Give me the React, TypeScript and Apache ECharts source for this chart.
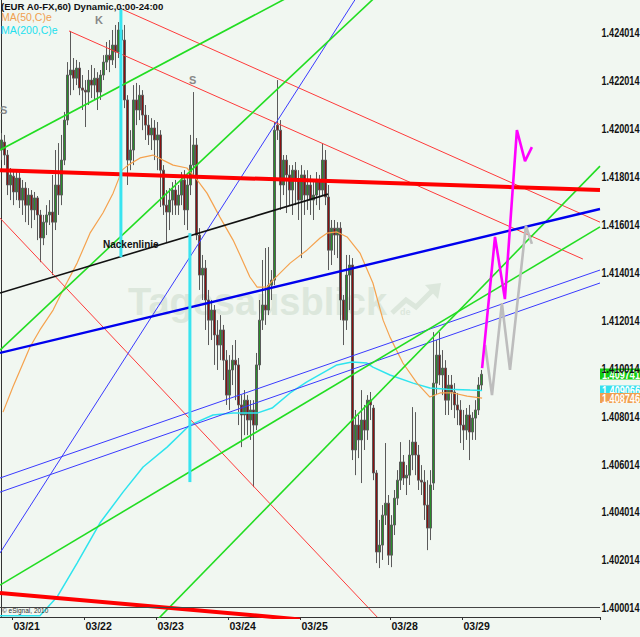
import React, { useEffect, useRef } from 'react';
import * as echarts from 'echarts';

// ---------- DATA ----------
// hourly candles: [open, close, low, high]
const candles: number[][] = [
  [1.41910,1.41952,1.41868,1.41981],[1.41943,1.41889,1.41847,1.41973],[1.41889,1.41764,1.41722,1.41910],[1.41764,1.41806,1.41701,1.41835],
  [1.41801,1.41735,1.41680,1.41826],[1.41735,1.41793,1.41701,1.41826],[1.41793,1.41701,1.41668,1.41818],[1.41701,1.41751,1.41639,1.41785],
  [1.41751,1.41680,1.41609,1.41776],[1.41680,1.41722,1.41597,1.41751],[1.41722,1.41660,1.41584,1.41743],[1.41660,1.41710,1.41618,1.41735],
  [1.41710,1.41639,1.41534,1.41718],[1.41639,1.41543,1.41442,1.41660],[1.41543,1.41609,1.41513,1.41639],[1.41609,1.41639,1.41555,1.41680],
  [1.41639,1.41651,1.41597,1.41701],[1.41651,1.41609,1.41388,1.41806],[1.41609,1.41764,1.41576,1.41910],[1.41764,1.41722,1.41639,1.41939],
  [1.41722,1.41868,1.41680,1.41973],[1.41868,1.42035,1.41847,1.42069],[1.42035,1.42223,1.42014,1.42277],[1.42223,1.42244,1.42139,1.42407],
  [1.42244,1.42210,1.42160,1.42294],[1.42210,1.42252,1.42181,1.42286],[1.42252,1.42169,1.42139,1.42277],[1.42169,1.42160,1.42077,1.42223],
  [1.42160,1.42152,1.42006,1.42202],[1.42152,1.42202,1.42098,1.42244],[1.42202,1.42181,1.42127,1.42265],[1.42181,1.42210,1.42119,1.42252],
  [1.42210,1.42152,1.42077,1.42235],[1.42152,1.42223,1.42119,1.42244],[1.42223,1.42277,1.42202,1.42306],[1.42277,1.42306,1.42244,1.42361],
  [1.42306,1.42286,1.42235,1.42369],[1.42286,1.42348,1.42265,1.42411],[1.42348,1.42319,1.42252,1.42432],[1.42319,1.42411,1.42294,1.42444],
  [1.42411,1.42369,1.42306,1.42503],[1.42369,1.42119,1.42085,1.42432],[1.42119,1.41868,1.41764,1.42139],[1.41868,1.41910,1.41826,1.41993],
  [1.41910,1.42119,1.41847,1.42181],[1.42119,1.42077,1.42014,1.42190],[1.42077,1.42139,1.42035,1.42181],[1.42139,1.42056,1.41993,1.42160],
  [1.42056,1.42014,1.41952,1.42098],[1.42014,1.41973,1.41931,1.42056],[1.41973,1.42002,1.41910,1.42043],[1.42002,1.41952,1.41868,1.42035],
  [1.41952,1.41973,1.41826,1.42027],[1.41973,1.41826,1.41672,1.41993],[1.41826,1.41680,1.41639,1.41847],[1.41680,1.41651,1.41522,1.41743],
  [1.41651,1.41701,1.41576,1.41751],[1.41701,1.41743,1.41639,1.41776],[1.41743,1.41680,1.41639,1.41785],[1.41680,1.41722,1.41639,1.41764],
  [1.41722,1.41785,1.41680,1.41818],[1.41785,1.41660,1.41597,1.41826],[1.41660,1.41764,1.41576,1.41793],[1.41764,1.41847,1.41722,1.41973],
  [1.41847,1.41931,1.41806,1.42152],[1.41931,1.41555,1.41534,1.41960],[1.41555,1.41388,1.41326,1.41584],[1.41388,1.41417,1.41284,1.41472],
  [1.41417,1.41284,1.41159,1.41451],[1.41284,1.41200,1.41096,1.41326],[1.41200,1.41242,1.41117,1.41284],[1.41242,1.41138,1.41013,1.41263],
  [1.41138,1.41096,1.40992,1.41200],[1.41096,1.41159,1.41033,1.41221],[1.41159,1.41033,1.40950,1.41180],[1.41033,1.40887,1.40846,1.41075],
  [1.40887,1.40992,1.40825,1.41054],[1.40992,1.41033,1.40929,1.41096],[1.41033,1.41013,1.40866,1.41117],[1.41013,1.40846,1.40762,1.41042],
  [1.40846,1.40804,1.40670,1.40887],[1.40804,1.40866,1.40720,1.40908],[1.40866,1.40783,1.40720,1.40887],[1.40783,1.40825,1.40700,1.40866],
  [1.40825,1.40762,1.40503,1.40866],[1.40762,1.41013,1.40741,1.41063],[1.41013,1.41200,1.40992,1.41284],[1.41200,1.41263,1.41159,1.41451],
  [1.41263,1.41242,1.41180,1.41501],[1.41242,1.41346,1.41221,1.41505],[1.41346,1.41367,1.41284,1.41409],[1.41367,1.41993,1.41346,1.42027],
  [1.42014,1.41993,1.41952,1.42202],[1.41993,1.41764,1.41660,1.42035],[1.41764,1.41868,1.41722,1.41889],[1.41868,1.41806,1.41647,1.41889],
  [1.41806,1.41743,1.41680,1.41847],[1.41743,1.41826,1.41639,1.41847],[1.41826,1.41785,1.41680,1.41860],[1.41785,1.41701,1.41618,1.41826],
  [1.41701,1.41806,1.41459,1.41847],[1.41806,1.41722,1.41639,1.41826],[1.41722,1.41764,1.41660,1.41826],[1.41764,1.41701,1.41639,1.41806],
  [1.41701,1.41722,1.41618,1.41785],[1.41722,1.41785,1.41680,1.41818],[1.41785,1.41743,1.41660,1.41806],[1.41743,1.41868,1.41722,1.41939],
  [1.41868,1.41714,1.41680,1.41910],[1.41714,1.41492,1.41409,1.41764],[1.41492,1.41584,1.41430,1.41618],[1.41584,1.41555,1.41472,1.41618],
  [1.41555,1.41584,1.41459,1.41609],[1.41584,1.41284,1.41200,1.41609],[1.41284,1.41200,1.41096,1.41305],[1.41200,1.41388,1.41159,1.41472],
  [1.41388,1.41430,1.41242,1.41472],[1.41430,1.40658,1.40616,1.41459],[1.40658,1.40762,1.40553,1.40825],[1.40762,1.40700,1.40624,1.40804],
  [1.40700,1.40783,1.40520,1.40908],[1.40783,1.40741,1.40658,1.40846],[1.40741,1.40866,1.40700,1.40887],[1.40866,1.40846,1.40783,1.40900],
  [1.40833,1.40562,1.40532,1.40846],[1.40562,1.40232,1.40186,1.40574],[1.40232,1.40261,1.40165,1.40366],[1.40261,1.40386,1.40199,1.40428],
  [1.40386,1.40436,1.40345,1.40687],[1.40436,1.40219,1.40178,1.40470],[1.40219,1.40345,1.40169,1.40386],[1.40345,1.40457,1.40303,1.40491],
  [1.40457,1.40532,1.40428,1.40574],[1.40532,1.40608,1.40491,1.40691],[1.40608,1.40541,1.40512,1.40637],[1.40541,1.40553,1.40470,1.40595],
  [1.40553,1.40637,1.40512,1.40700],[1.40637,1.40691,1.40574,1.40837],[1.40691,1.40637,1.40553,1.40816],[1.40637,1.40532,1.40491,1.40679],
  [1.40532,1.40524,1.40470,1.40595],[1.40524,1.40428,1.40366,1.40574],[1.40428,1.40332,1.40240,1.40532],[1.40332,1.40512,1.40282,1.40574],
  [1.40520,1.40937,1.40491,1.41150],[1.40937,1.41054,1.40887,1.41117],[1.41054,1.40971,1.40929,1.41150],[1.40971,1.41000,1.40887,1.41075],
  [1.41000,1.40866,1.40804,1.41033],[1.40866,1.40929,1.40804,1.40971],[1.40929,1.40900,1.40825,1.40971],[1.40900,1.40846,1.40791,1.40937],
  [1.40846,1.40825,1.40762,1.40896],[1.40825,1.40762,1.40687,1.40866],[1.40762,1.40741,1.40658,1.40825],[1.40741,1.40804,1.40700,1.40833],
  [1.40804,1.40733,1.40616,1.40846],[1.40733,1.40791,1.40700,1.40816],[1.40791,1.40825,1.40700,1.40866],[1.40825,1.40929,1.40804,1.40962],
  [1.40929,1.409741,1.40908,1.40992],
];

const barCount = 200; // hourly slots on the x axis
const dayTickIndex = [4, 28, 52, 76, 100, 130, 154];
const dayLabels = ['03/21', '03/22', '03/23', '03/24', '03/25', '03/28', '03/29'];
const yTicks = [1.400014, 1.402014, 1.404014, 1.406014, 1.408014, 1.410014, 1.412014, 1.414014, 1.416014, 1.418014, 1.420014, 1.422014, 1.424014];
const yMin = 1.399609;
const yMax = 1.425362;

// moving averages [barIndex, price]
const ma50: number[][] = [
  [0.5,1.40816],[3.8,1.40921],[9.5,1.41088],[12.8,1.41159],[17.2,1.41242],[20.5,1.41326],[25.2,1.41438],[29.5,1.41563],
  [33.8,1.41647],[37.2,1.41730],[40.2,1.41826],[42.2,1.41847],[46.2,1.41877],[50.5,1.41889],[53.8,1.41868],[57.2,1.41847],
  [61.8,1.41835],[65.2,1.41785],[68.5,1.41730],[72.8,1.41630],[77.2,1.41534],[79.5,1.41472],[82.8,1.41380],[85.2,1.41338],
  [88.5,1.41338],[90.5,1.41367],[96.2,1.41438],[101.8,1.41492],[106.2,1.41543],[108.5,1.41563],[111.8,1.41568],[115.2,1.41547],
  [119.5,1.41480],[123.8,1.41355],[127.2,1.41200],[129.5,1.41129],[133.8,1.41021],[138.5,1.40937],[142.8,1.40879],[146.2,1.40896],
  [150.5,1.40896],[155.2,1.40883],[160.2,1.408746],
];
const ma200: number[][] = [
  [-0.5,1.39966],[12.8,1.39966],[18.5,1.40044],[25.2,1.40186],[32.8,1.40353],[40.5,1.40482],[47.2,1.40587],[55.2,1.40670],
  [62.8,1.40762],[70.5,1.40804],[77.2,1.40812],[85.2,1.40812],[90.2,1.40833],[96.2,1.40896],[101.8,1.40942],[111.8,1.41013],
  [116.8,1.41025],[121.8,1.41021],[123.8,1.41004],[129.5,1.40971],[137.2,1.40937],[142.8,1.40917],[148.5,1.40912],[156.2,1.40908],
  [160.2,1.409066],
];
// price tags at the right edge
const lastClose = 1.409741;
const ma200Last = 1.409066;
const ma50Last = 1.408746;
const supportLevel = 1.40361;

// drawn trend lines [barIndex, price]
const redThickTop = [[-0.5, 1.41826], [199.5, 1.41743]];
const redThickBottom = [[-0.5, 1.40061], [99.5, 1.39951]];
const redThinA = [[22.5, 1.42407], [193.8, 1.41455]];
const redThinB = [[40.2, 1.42498], [199.5, 1.41609]];
const redThinC = [[-0.5, 1.41626], [125.2, 1.39961]];
const greenA = [[-0.5, 1.41910], [99.5, 1.42574]];
const greenB = [[-0.5, 1.41075], [132.8, 1.42645]];
const greenC = [[-0.5, 1.40094], [199.5, 1.41589]];
const greenD = [[49.5, 1.39918], [199.5, 1.41843]];
const blueThick = [[-0.5, 1.41063], [199.5, 1.41664]];
const blueSteep = [[-0.5, 1.40228], [121.2, 1.42603]];
const blueThinA = [[-0.5, 1.40541], [199.5, 1.41409]];
const blueThinB = [[-0.5, 1.40482], [199.5, 1.41355]];
const neckline = [[-0.5, 1.41313], [108.8, 1.41726]];
const cyanMarkA = [[39.8, 1.42498], [39.8, 1.41463]];
const cyanMarkB = [[62.8, 1.41563], [62.8, 1.40524]];
const projMagenta = [[160.2, 1.41000], [164.5, 1.41547], [167.8, 1.41288], [171.8, 1.41993], [174.5, 1.41864], [176.8, 1.41922]];
const projGray = [[161.2, 1.41096], [163.5, 1.40887], [166.8, 1.41271], [169.5, 1.40992], [174.8, 1.41593], [176.8, 1.41518]];

// ---------- CHART ----------
const SANS = "'Liberation Sans', Arial, Helvetica, sans-serif";
const BG = '#f1f7f1';
const WM = '#dce7dc';
const NARROW_SCALE = 0.76; // condensed look of the original axis font

function seg(data: number[][], color: string, width: number, extra: any = {}) {
  return {
    type: 'line',
    xAxisIndex: 1,
    yAxisIndex: 0,
    data,
    symbol: 'none',
    showSymbol: false,
    silent: true,
    clip: true,
    lineStyle: { color, width },
    ...extra,
  };
}

export default function App() {
  const ref = useRef<HTMLDivElement>(null);

  useEffect(() => {
    if (!ref.current) return;
    const chart = echarts.init(ref.current, undefined, { renderer: 'svg' });
    const cats = Array.from({ length: barCount }, (_, i) => String(i));
    const showDay = (i: number) => dayTickIndex.indexOf(i) >= 0;

    const baseGraphic: any[] = [
      { id: 'wm', type: 'text', x: 128, y: 302, z: 0, style: { text: 'Tagesausblick', fill: WM, font: `bold 38px ${SANS}`, verticalAlign: 'middle' } },
      { id: 'wmArrow', type: 'polyline', z: 0, shape: { points: [[392, 313], [406, 300], [416, 307], [432, 291]] }, style: { stroke: WM, lineWidth: 5, fill: 'none' } },
      { id: 'wmHead', type: 'polygon', z: 0, shape: { points: [[425, 285], [441, 283], [438, 299]] }, style: { fill: WM } },
      { id: 'wmDe', type: 'text', x: 400, y: 312, z: 0, style: { text: 'de', fill: WM, font: `bold 9px ${SANS}`, verticalAlign: 'middle' } },
      { id: 't1', type: 'text', x: 1, y: 6, z: 10, style: { text: '(EUR A0-FX,60) Dynamic,0:00-24:00', fill: '#111', font: `bold 9.6px ${SANS}`, verticalAlign: 'middle' } },
      { id: 't2', type: 'text', x: 1, y: 17, z: 10, style: { text: 'MA(50,C)e', fill: '#f0a050', font: `10.5px ${SANS}`, verticalAlign: 'middle' } },
      { id: 't3', type: 'text', x: 1, y: 30, z: 10, style: { text: 'MA(200,C)e', fill: '#22e0ee', font: `10.5px ${SANS}`, verticalAlign: 'middle' } },
      { id: 'k', type: 'text', x: 95, y: 20, z: 10, style: { text: 'K', fill: '#888', font: `bold 11px ${SANS}`, verticalAlign: 'middle' } },
      { id: 's1', type: 'text', x: 189, y: 80, z: 10, style: { text: 'S', fill: '#888', font: `bold 11px ${SANS}`, verticalAlign: 'middle' } },
      { id: 's2', type: 'text', x: 0, y: 110, z: 10, style: { text: 'S', fill: '#888', font: `bold 11px ${SANS}`, verticalAlign: 'middle' } },
      { id: 'neck', type: 'text', x: 103, y: 244, z: 10, style: { text: 'Nackenlinie', fill: '#111', font: `bold 10px ${SANS}`, verticalAlign: 'middle' } },
      { id: 'copy', type: 'text', x: 2, y: 610, z: 10, style: { text: '© eSignal, 2010', fill: '#333', font: `6.5px ${SANS}`, verticalAlign: 'middle' } },
    ];

    const option: any = {
      animation: false,
      backgroundColor: BG,
      grid: { left: 0, top: 0, right: 40, bottom: 20, containLabel: false, outerBoundsMode: 'none' },
      xAxis: [
        {
          type: 'category',
          data: cats,
          boundaryGap: true,
          axisLine: { show: true, lineStyle: { color: '#333', width: 1 } },
          axisTick: { show: true, interval: (i: number) => showDay(i), length: 3, lineStyle: { color: '#333' } },
          axisLabel: {
            interval: (i: number) => showDay(i),
            formatter: (_v: string, i: number) => dayLabels[dayTickIndex.indexOf(i)] || '',
            align: 'left',
            margin: 3,
            color: '#111',
            fontSize: 10.5,
            fontWeight: 'bold',
            fontFamily: SANS,
          },
          splitLine: { show: false },
        },
        { type: 'value', min: -0.5, max: barCount - 0.5, show: false },
      ],
      yAxis: [
        {
          type: 'value',
          position: 'right',
          min: yMin,
          max: yMax,
          scale: true,
          axisLine: { show: true, lineStyle: { color: '#333', width: 1 } },
          axisTick: { show: false },
          splitLine: { show: false },
          axisLabel: { show: false },
        },
      ],
      graphic: baseGraphic,
      series: [
        {
          type: 'candlestick',
          xAxisIndex: 0,
          yAxisIndex: 0,
          data: candles,
          barWidth: 3,
          silent: true,
          itemStyle: {
            color: '#2a8c2a',
            color0: '#8a1010',
            borderColor: '#5a5a5a',
            borderColor0: '#5a5a5a',
            borderWidth: 1,
          },
          markLine: {
            symbol: ['none', 'none'],
            silent: true,
            label: { show: false },
            data: [{ yAxis: supportLevel, lineStyle: { color: '#444', width: 1, type: 'solid' } }],
          },
        },
        seg(ma200, '#2ee4ee', 1.5),
        seg(ma50, '#f5a24e', 1.2),
        seg(redThinA, '#ff3a3a', 1),
        seg(redThinB, '#ff3a3a', 1),
        seg(redThinC, '#ff3a3a', 1),
        seg(blueSteep, '#3a3aff', 1),
        seg(blueThinA, '#3a3aff', 1),
        seg(blueThinB, '#3a3aff', 1),
        seg(greenA, '#22dd22', 1.6),
        seg(greenB, '#22dd22', 1.6),
        seg(greenC, '#22dd22', 1.6),
        seg(greenD, '#22dd22', 1.6),
        seg(blueThick, '#0000ee', 2.4),
        seg(neckline, '#111111', 1.6),
        seg(redThickTop, '#ff0000', 4),
        seg(redThickBottom, '#ff0000', 4),
        seg(cyanMarkA, '#38e4f0', 3),
        seg(cyanMarkB, '#38e4f0', 3),
        seg(projGray, '#bdbdbd', 2.6),
        seg(projMagenta, '#ff00ff', 2.6),
      ],
    };
    chart.setOption(option);

    const toY = (v: number) => Math.round(chart.convertToPixel({ yAxisIndex: 0 }, v) as number);
    const gridRight = 600;

    // y axis tick labels (condensed bold, as in the original)
    const yLabelGraphic = yTicks.map((v, k) => ({
      id: 'yl' + k,
      type: 'text',
      x: gridRight + 1.5,
      y: toY(v),
      scaleX: NARROW_SCALE,
      z: 5,
      style: { text: v.toFixed(6), fill: '#111', font: `bold 12px ${SANS}`, verticalAlign: 'middle' },
    }));

    // value tags on the right axis, placed through the y scale
    const tags: [number, string, string, number][] = [
      [ma200Last, '1.409066', '#33e0ee', 9],
      [ma50Last, '1.408746', '#f0a050', 10],
      [lastClose, '1.409741', '#11cc11', 11],
    ];
    const tagGraphic = tags.map(([v, txt, bg, h], k) => ({
      id: 'tag' + k,
      type: 'group',
      z: 20,
      x: gridRight,
      y: toY(v),
      children: [
        { type: 'rect', shape: { x: 0, y: -h / 2, width: 40, height: h }, style: { fill: bg } },
        { type: 'text', x: 2, y: 0.5, scaleX: NARROW_SCALE, style: { text: txt, fill: '#fff', font: `bold 12px ${SANS}`, verticalAlign: 'middle' } },
      ],
    }));
    chart.setOption({ graphic: [...baseGraphic, ...yLabelGraphic, ...tagGraphic] });
    return () => chart.dispose();
  }, []);

  return (
    <div
      ref={ref}
      style={{ position: 'fixed', left: 0, top: 0, width: 640, height: 637, background: BG }}
    />
  );
}
